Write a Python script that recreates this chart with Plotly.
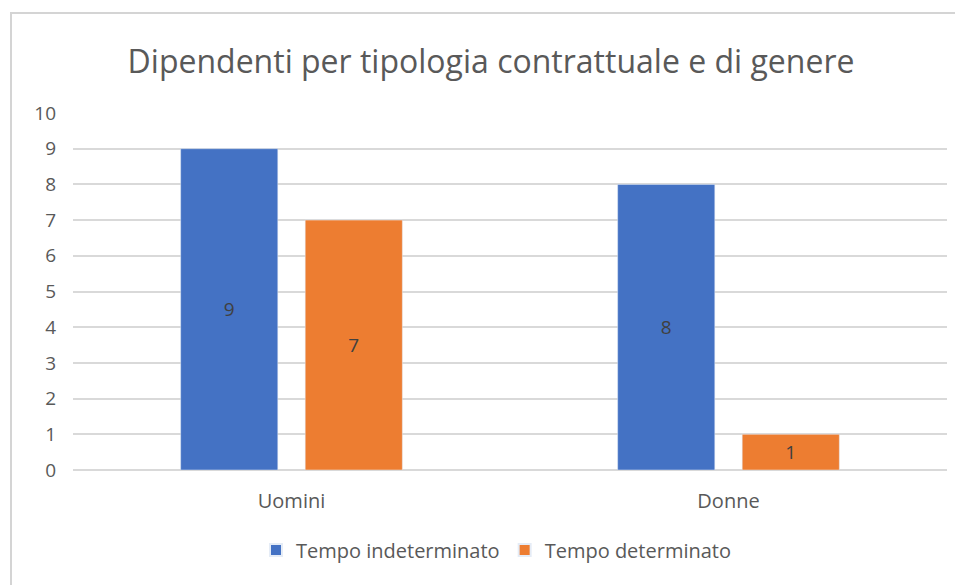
import plotly.graph_objects as go

categorie = ["Uomini", "Donne"]
indeterminato = [9, 8]
determinato = [7, 1]

# la pagina html ha un margine di 8px sul body
OFF = 8
W, H = 963 - OFF, 585 - OFF
L, R, T = 73 - OFF, 16, 113 - OFF
pw = W - L - R
ph = 357
B = H - T - ph

def px_x(x):
    return (x - OFF - L) / pw

def px_y(y):
    return 1 - (y - OFF - T) / ph

font = "Open Sans"
grigio = "#595959"
testo = 19

fig = go.Figure()
fig.add_trace(go.Bar(x=categorie, y=indeterminato, name="Tempo indeterminato",
                     marker_color="#4472C4", text=indeterminato, textposition="inside",
                     insidetextanchor="middle", textfont=dict(color="#404040", size=testo)))
fig.add_trace(go.Bar(x=categorie, y=determinato, name="Tempo determinato",
                     marker_color="#ED7D31", text=determinato, textposition="inside",
                     insidetextanchor="middle", textfont=dict(color="#404040", size=testo)))

# cornice del grafico
fig.add_shape(type="rect", xref="paper", yref="paper",
              x0=px_x(11), x1=px_x(990), y0=px_y(620), y1=px_y(13),
              line=dict(color="#D4D4D4", width=2), layer="below")

fig.update_layout(
    width=W, height=H,
    margin=dict(l=L, r=R, t=T, b=B),
    paper_bgcolor="white", plot_bgcolor="white",
    font=dict(family=font, color=grigio, size=testo),
    title=dict(text="Dipendenti per tipologia contrattuale e di genere",
               x=px_x(491), xanchor="center", xref="paper",
               y=1 - (62 - OFF) / H, yanchor="middle",
               font=dict(size=32, color=grigio)),
    barmode="group", bargap=0.43, bargroupgap=0.22,
    showlegend=True,
    legend=dict(orientation="h", x=px_x(496), xanchor="center", y=px_y(550),
                yanchor="middle", font=dict(size=20), itemsizing="constant"),
    xaxis=dict(showline=False, ticks="", tickfont=dict(size=20), ticklabelstandoff=17),
    yaxis=dict(range=[0, 10], dtick=1, gridcolor="#D9D9D9", gridwidth=1.5,
               zeroline=True, zerolinecolor="#D9D9D9", zerolinewidth=1.5,
               ticks="", tickfont=dict(size=19), ticklabelstandoff=16),
    uniformtext=dict(minsize=10, mode="show"),
)

fig.write_html("out.html")
